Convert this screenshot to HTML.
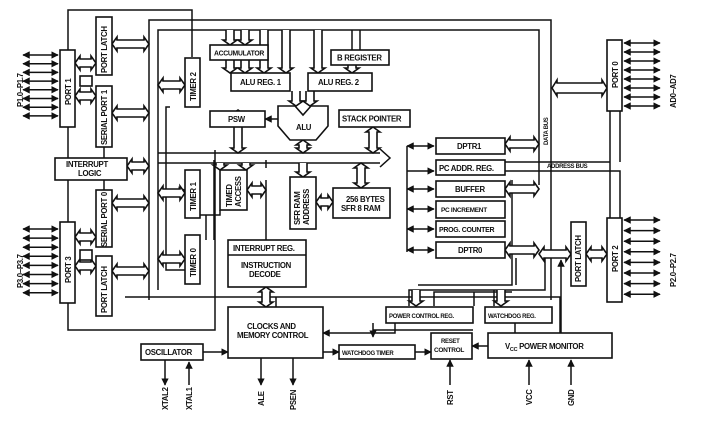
<!DOCTYPE html>
<html><head><meta charset="utf-8"><style>
html,body{margin:0;padding:0;background:#fff}
svg{display:block}
text{font-family:"Liberation Sans",sans-serif;font-weight:bold;font-size:7.8px;fill:#111;letter-spacing:-0.3px}
.b{fill:#fff;stroke:#111;stroke-width:1.6}
.l{fill:none;stroke:#111;stroke-width:1.5}
</style></head><body>
<svg id="s" width="717" height="422" viewBox="0 0 717 422" xmlns="http://www.w3.org/2000/svg">
<defs><marker id="a" viewBox="0 0 10 10" refX="9" refY="5" markerWidth="5" markerHeight="5" orient="auto-start-reverse"><path d="M0,0L10,5L0,10z" fill="#111"/></marker></defs>
<g id="w" class="l">
<path d="M68,50V10H192V57"/>
<path d="M149,300V20H551V300"/>
<path d="M158,290V30H539V185"/>
<path d="M158,153H380M158,163H380"/>
<path d="M380,149L390,158L380,167"/>
<path d="M68,303V330H215V150"/>
<path d="M125,297H560V333"/>
<path d="M68,127V158M68,180V222"/>
<path d="M104,147V158M104,180V190"/>
<path d="M170,107H166V270H185M166,190H185" marker-end="url(#a)"/>
<path d="M407,146V252"/>
<path d="M561,333V260" marker-end="url(#a)"/>
<path d="M276,358V297" />
<path d="M505,162H610V218M505,171H620V218M610,111V162M620,111V162"/>
<path d="M203,352H228" marker-end="url(#a)"/>
<path d="M323,352H339" marker-end="url(#a)"/>
<path d="M415,352H431" marker-end="url(#a)"/>
<path d="M488,346H472" marker-end="url(#a)"/>
<path d="M373,323V337" marker-end="url(#a)"/>
<path d="M373,330H473"/>
<path d="M395,323V333H323" marker-end="url(#a)"/>
<path d="M515,323V333"/>
<path d="M165,360V385" marker-end="url(#a)"/>
<path d="M189,385V362" marker-end="url(#a)"/>
<path d="M261,358V385" marker-end="url(#a)"/>
<path d="M293,358V385" marker-end="url(#a)"/>
<path d="M450,385V360" marker-end="url(#a)"/>
<path d="M529,385V360" marker-end="url(#a)"/>
<path d="M571,385V360" marker-end="url(#a)"/>
<path d="M265,119H278" marker-start="url(#a)"/>
<path d="M214,240V160M220,210V215H206V240M200,215H206" />
<path d="M266,168V160M266,240V180"/>
<path d="M418,285H512V180M516,285V258M434,306V292H512M474,306V292"/>
<path d="M409,306V290H545V258"/>
<path d="M494,306V290"/>
</g>
<g id="bx">
<rect class="b" x="60" y="50" width="15" height="77"/>
<rect class="b" x="96" y="17" width="16" height="58"/>
<rect class="b" x="96" y="86" width="16" height="61"/>
<rect class="b" x="80" y="76" width="12" height="10"/>
<rect class="b" x="55" y="158" width="72" height="22"/>
<rect class="b" x="60" y="222" width="15" height="81"/>
<rect class="b" x="96" y="190" width="16" height="57"/>
<rect class="b" x="96" y="256" width="16" height="60"/>
<rect class="b" x="80" y="250" width="12" height="10"/>
<rect class="b" x="185" y="58" width="15" height="49"/>
<rect class="b" x="185" y="170" width="15" height="48"/>
<rect class="b" x="185" y="235" width="15" height="49"/>
<rect class="b" x="220" y="170" width="27" height="40"/>
<rect class="b" x="210" y="45" width="58" height="15"/>
<rect class="b" x="331" y="50" width="58" height="15"/>
<rect class="b" x="231" y="73" width="59" height="18"/>
<rect class="b" x="308" y="73" width="64" height="18"/>
<rect class="b" x="210" y="111" width="55" height="16"/>
<rect class="b" x="339" y="110" width="71" height="17"/>
<path class="b" d="M278,106H295L303,115L311,106H328V126L316,140H290L278,126Z"/>
<rect class="b" x="290" y="177" width="26" height="52"/>
<rect class="b" x="333" y="188" width="57" height="30"/>
<rect class="b" x="228" y="240" width="78" height="47"/>
<path class="l" d="M228,255H306"/>
<rect class="b" x="436" y="138" width="69" height="16"/>
<rect class="b" x="436" y="160" width="69" height="15"/>
<rect class="b" x="436" y="181" width="69" height="16"/>
<rect class="b" x="436" y="201" width="69" height="17"/>
<rect class="b" x="436" y="221" width="69" height="16"/>
<rect class="b" x="436" y="242" width="69" height="16"/>
<rect class="b" x="607" y="40" width="15" height="71"/>
<rect class="b" x="607" y="218" width="15" height="84"/>
<rect class="b" x="571" y="222" width="15" height="64"/>
<rect class="b" x="228" y="307" width="95" height="51"/>
<rect class="b" x="141" y="344" width="62" height="16"/>
<rect class="b" x="339" y="345" width="76" height="14"/>
<rect class="b" x="431" y="333" width="41" height="26"/>
<rect class="b" x="488" y="333" width="124" height="25"/>
<rect class="b" x="386" y="307" width="87" height="16"/>
<rect class="b" x="485" y="307" width="67" height="16"/>
</g>
<g>
<text x="214" y="55.5" style="font-size:7px" textLength="50" lengthAdjust="spacingAndGlyphs">ACCUMULATOR</text>
<text x="337" y="60.5">B REGISTER</text>
<text x="240" y="85">ALU REG. 1</text>
<text x="318" y="85">ALU REG. 2</text>
<text x="228" y="122">PSW</text>
<text x="296" y="130">ALU</text>
<text x="342" y="121.5">STACK POINTER</text>
<text x="66" y="167">INTERRUPT</text>
<text x="78" y="176">LOGIC</text>
<text x="346" y="202">256 BYTES</text>
<text x="341" y="211">SFR 8 RAM</text>
<text x="233" y="251">INTERRUPT REG.</text>
<text x="241" y="268">INSTRUCTION</text>
<text x="249" y="277">DECODE</text>
<text x="457" y="149">DPTR1</text>
<text x="439" y="171">PC ADDR. REG.</text>
<text x="455" y="192">BUFFER</text>
<text x="441" y="212" style="font-size:6.5px">PC INCREMENT</text>
<text x="439" y="232" style="font-size:7px">PROG. COUNTER</text>
<text x="458" y="253">DPTR0</text>
<text x="547" y="168" style="font-size:6px">ADDRESS BUS</text>
<text x="247" y="329">CLOCKS AND</text>
<text x="237" y="338">MEMORY CONTROL</text>
<text x="145" y="355">OSCILLATOR</text>
<text x="342" y="355" style="font-size:6px">WATCHDOG TIMER</text>
<text x="441" y="343" style="font-size:6px">RESET</text>
<text x="434" y="352" style="font-size:6.5px">CONTROL</text>
<text x="505" y="349">V<tspan style="font-size:5.5px" dy="2">CC</tspan><tspan dy="-2"> POWER MONITOR</tspan></text>
<text x="389" y="318" style="font-size:6px">POWER CONTROL REG.</text>
<text x="488" y="318" style="font-size:6px">WATCHDOG REG.</text>
<g transform="rotate(-90)">
<text x="-105" y="71">PORT 1</text>
<text x="-73" y="107">PORT LATCH</text>
<text x="-145" y="107">SERIAL PORT 1</text>
<text x="-247" y="107">SERIAL PORT 0</text>
<text x="-313" y="107">PORT LATCH</text>
<text x="-283" y="71">PORT 3</text>
<text x="-101" y="196">TIMER 2</text>
<text x="-211" y="196">TIMER 1</text>
<text x="-277" y="196">TIMER 0</text>
<text x="-207" y="232">TIMED</text>
<text x="-207" y="241">ACCESS</text>
<text x="-225" y="300">SFR RAM</text>
<text x="-225" y="309">ADDRESS</text>
<text x="-88" y="618">PORT 0</text>
<text x="-272" y="618">PORT 2</text>
<text x="-282" y="581">PORT LATCH</text>
<text x="-145" y="548" style="font-size:6px">DATA BUS</text>
<text x="-107" y="23">P1.0–P1.7</text>
<text x="-288" y="23">P3.0–P3.7</text>
<text x="-108" y="676">AD0–AD7</text>
<text x="-287" y="676">P2.0–P2.7</text>
<text x="-410" y="168">XTAL2</text>
<text x="-410" y="192">XTAL1</text>
<text x="-406" y="264">ALE</text>
<text x="-410" y="296">PSEN</text>
<text x="-405" y="453">RST</text>
<text x="-405" y="532">VCC</text>
<text x="-406" y="574">GND</text>
</g>
</g>
</svg>
<script>
var s=document.getElementById('s'),ns='http://www.w3.org/2000/svg';
function P(d,c){var p=document.createElementNS(ns,'path');p.setAttribute('d',d);p.setAttribute('class',c||'b');s.insertBefore(p,document.getElementById('bx'));}
function H(x1,x2,y,w){w=w||4;var h=w+3,k=5;P('M'+x1+','+y+'L'+(x1+k)+','+(y-h)+'V'+(y-w)+'H'+(x2-k)+'V'+(y-h)+'L'+x2+','+y+'L'+(x2-k)+','+(y+h)+'V'+(y+w)+'H'+(x1+k)+'V'+(y+h)+'Z');}
function V(x,y1,y2,w){w=w||4;var h=w+3,k=5;P('M'+x+','+y1+'L'+(x-h)+','+(y1+k)+'H'+(x-w)+'V'+(y2-k)+'H'+(x-h)+'L'+x+','+y2+'L'+(x+h)+','+(y2-k)+'H'+(x+w)+'V'+(y1+k)+'H'+(x+h)+'Z');}
function VD(x,y1,y2,w){w=w||4;var h=w+3,k=5;P('M'+(x-w)+','+y1+'V'+(y2-k)+'H'+(x-h)+'L'+x+','+y2+'L'+(x+h)+','+(y2-k)+'H'+(x+w)+'V'+y1,'b');}
function pins(x1,x2,y0,n,st){for(var i=0;i<n;i++){var y=y0+i*st,p=document.createElementNS(ns,'path');p.setAttribute('d','M'+x1+','+y+'H'+x2);p.setAttribute('class','l');p.setAttribute('marker-start','url(#a)');p.setAttribute('marker-end','url(#a)');s.appendChild(p);}}
H(112,149,44);H(112,149,113);H(127,149,166);H(112,149,203);H(112,149,271);
H(75,96,63);H(75,96,96);H(75,96,237);H(75,96,266);
H(158,185,85);H(158,185,193);H(158,185,259);
H(247,266,190);H(316,333,202);
H(552,607,88,5);H(505,539,144);H(505,539,189);H(505,539,250);
H(539,571,254);H(586,607,254);
V(238,110,153);V(303,140,153);V(373,127,153);V(361,163,188);V(266,287,307);
VD(230,30,45);VD(245,30,45);VD(230,60,73);VD(245,60,73);
VD(264,30,73);VD(286,30,73);VD(296,91,106);VD(310,91,106);VD(318,30,73);VD(352,65,73);
VD(303,163,177);VD(220,163,170);VD(246,163,170);VD(416,290,306);VD(501,290,306);
var q=document.createElementNS(ns,'path');q.setAttribute('d','M360,30V50M352,30V50');q.setAttribute('class','l');s.appendChild(q);
pins(23,58,55,8,8.7);pins(23,58,229,8,9.1);pins(624,660,43,8,9);pins(624,660,220,8,10.6);
[146,171,189,209,229,250].forEach(function(y,i){var p=document.createElementNS(ns,'path');p.setAttribute('d','M407,'+y+'H434');p.setAttribute('class','l');p.setAttribute('marker-end','url(#a)');if(i!=1)p.setAttribute('marker-start','url(#a)');s.appendChild(p);});
</script>
</body></html>
